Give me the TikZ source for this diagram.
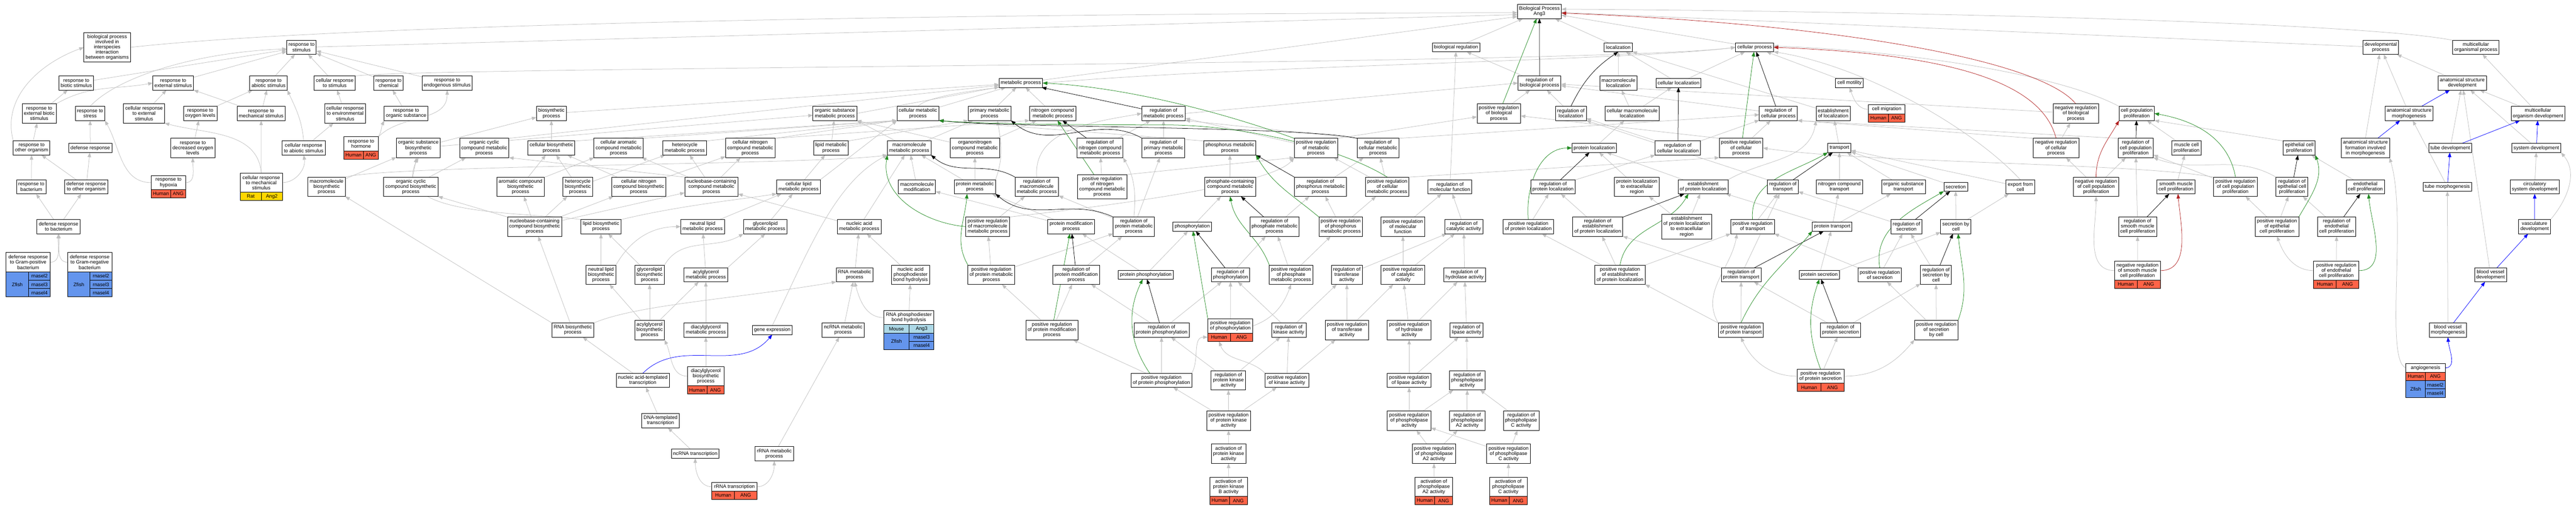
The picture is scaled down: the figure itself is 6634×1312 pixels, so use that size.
\documentclass[tikz,border=0pt]{standalone}
\usepackage{fontspec}
\setmainfont{Liberation Sans}
\usetikzlibrary{arrows.meta,calc}
\pgfdeclarelayer{bg}
\pgfsetlayers{bg,main}
\definecolor{hum}{RGB}{255,99,71}
\definecolor{rat}{RGB}{255,215,0}
\definecolor{fish}{RGB}{100,149,237}
\definecolor{mouse}{RGB}{173,216,230}
\definecolor{edgegray}{RGB}{192,192,192}
\definecolor{posgreen}{RGB}{34,139,34}
\definecolor{negred}{RGB}{178,34,34}
\newcommand{\gofont}{\fontsize{12.8}{13.4}\selectfont}
\newcommand{\rowh}{21.5pt}
% species cell under a term: host, first row, rows, width, colour, text
\newcommand{\spcell}[6]{\node[cell, fill=#5, minimum width=#4pt, minimum height=#3*\rowh, anchor=north west]
  (#1-s#2) at ([yshift=-#2*\rowh]#1.south west) {#6};}
% gene cell under a term: host, row, width, colour, text
\newcommand{\gncell}[5]{\node[cell, fill=#4, minimum width=#3pt, minimum height=\rowh, anchor=north east]
  (#1-g#2) at ([yshift=-#2*\rowh]#1.south east) {#5};}

\begin{document}
\begin{tikzpicture}[x=1pt, y=1pt,
    term/.style={draw, line width=1.2pt, fill=white, align=center, font=\gofont, inner xsep=4.5pt, inner ysep=1pt, outer sep=0pt, minimum height=36.4pt},
    tall/.style={minimum height=9.6pt+#1*13.4pt},
    cell/.style={draw, line width=1.2pt, font=\gofont, inner sep=0pt, outer sep=0pt},
    link/.style={-{Triangle[length=12pt,width=9pt]}, edgegray, line width=1pt},
    poslink/.style={link, posgreen},
    reglink/.style={link, black},
    neglink/.style={link, negred},
    partlink/.style={link, blue}
]
    % --- root and level 1 ---
    \node[term] (bp) at (3964.4,-29.7) {Biological Process\\Ang3};
    \node[term, tall=5] (interspec) at (276,-122) {biological process\\involved in\\interspecies\\interaction\\between organisms};
    \node[term] (respstim) at (776.5,-122) {response to\\stimulus};
    \node[term, tall=1] (bioreg) at (3750,-122) {biological regulation};
    \node[term, tall=1] (loc) at (4167.5,-122) {localization};
    \node[term, tall=1] (cellproc) at (4518.6,-122) {cellular process};
    \node[term] (devproc) at (6131,-122) {developmental\\process};
    \node[term] (multiproc) at (6376,-122) {multicellular\\organismal process};

    % --- level 2 ---
    \node[term] (biotic) at (196.5,-214) {response to\\biotic stimulus};
    \node[term] (external) at (446,-214) {response to\\external stimulus};
    \node[term] (abiotic) at (691.6,-214) {response to\\abiotic stimulus};
    \node[term] (cellresp) at (862,-214) {cellular response\\to stimulus};
    \node[term] (chemical) at (1000.6,-214) {response to\\chemical};
    \node[term] (endogen) at (1151.6,-214) {response to\\endogenous stimulus};
    \node[term, tall=1] (metab) at (2629,-214) {metabolic process};
    \node[term] (regbio) at (3964.7,-214) {regulation of\\biological process};
    \node[term] (macroloc) at (4168,-214) {macromolecule\\localization};
    \node[term, tall=1] (cellloc) at (4322.6,-214) {cellular localization};
    \node[term, tall=1] (motility) at (4763,-214) {cell motility};
    \node[term] (anatdev) at (6341,-214) {anatomical structure\\development};

    % --- level 3 ---
    \node[term, tall=3] (extbiotic) at (101,-292.5) {response to\\external biotic\\stimulus};
    \node[term] (stress) at (232,-292.5) {response to\\stress};
    \node[term, tall=3] (cellext) at (371,-292.5) {cellular response\\to external\\stimulus};
    \node[term] (oxygen) at (515.7,-292.5) {response to\\oxygen levels};
    \node[term] (mechan) at (672.5,-292.5) {response to\\mechanical stimulus};
    \node[term, tall=3] (cellenv) at (888.8,-292.5) {cellular response\\to environmental\\stimulus};
    \node[term] (orgsub) at (1046,-292.5) {response to\\organic substance};
    \node[term] (biosyn) at (1420,-292.5) {biosynthetic\\process};
    \node[term] (osmetab) at (2150,-292.5) {organic substance\\metabolic process};
    \node[term] (cellmetab) at (2364,-292.5) {cellular metabolic\\process};
    \node[term] (primmetab) at (2548.6,-292.5) {primary metabolic\\process};
    \node[term] (nitmetab) at (2711,-292.5) {nitrogen compound\\metabolic process};
    \node[term] (regmetab) at (2996.5,-292.5) {regulation of\\metabolic process};
    \node[term, tall=3] (posregbio) at (3860,-292.5) {positive regulation\\of biological\\process};
    \node[term] (regloc) at (4045.4,-292.5) {regulation of\\localization};
    \node[term] (cmacroloc) at (4203.3,-292.5) {cellular macromolecule\\localization};
    \node[term] (regcell) at (4579.8,-292.5) {regulation of\\cellular process};
    \node[term] (estloc) at (4721,-292.5) {establishment\\of localization};
    \node[term, tall=1, minimum width=93.4pt] (migration) at (4858.7,-281.8) {cell migration};
    \spcell{migration}{0}{1}{51}{hum}{Human}
    \gncell{migration}{0}{42.4}{hum}{ANG}
    \node[term, tall=3] (negregbio) at (5345.8,-292.5) {negative regulation\\of biological\\process};
    \node[term] (cellprolif) at (5502.7,-292.5) {cell population\\proliferation};
    \node[term] (anatmorph) at (6204,-292.5) {anatomical structure\\morphogenesis};
    \node[term] (multidev) at (6536,-292.5) {multicellular\\organism development};

    % --- level 4 ---
    \node[term] (otherorg) at (81.4,-381.5) {response to\\other organism};
    \node[term, tall=1] (defense) at (232.5,-381.5) {defense response};
    \node[term, tall=3] (decoxy) at (496.6,-381.5) {response to\\decreased oxygen\\levels};
    \node[term] (cellabio) at (782,-381.5) {cellular response\\to abiotic stimulus};
    \node[term, minimum width=89pt] (hormone) at (930,-370.8) {response to\\hormone};
    \spcell{hormone}{0}{1}{50}{hum}{Human}
    \gncell{hormone}{0}{39}{hum}{ANG}
    \node[term, tall=3] (osbiosyn) at (1077.4,-381.5) {organic substance\\biosynthetic\\process};
    \node[term, tall=3] (ocmetab) at (1247,-381.5) {organic cyclic\\compound metabolic\\process};
    \node[term] (cellbiosyn) at (1420,-381.5) {cellular biosynthetic\\process};
    \node[term, tall=3] (aromatic) at (1593,-381.5) {cellular aromatic\\compound metabolic\\process};
    \node[term] (hetmetab) at (1763.4,-381.5) {heterocycle\\metabolic process};
    \node[term, tall=3] (cnmetab) at (1932,-381.5) {cellular nitrogen\\compound metabolic\\process};
    \node[term] (lipid) at (2140,-381.5) {lipid metabolic\\process};
    \node[term] (macmetab) at (2341.5,-381.5) {macromolecule\\metabolic process};
    \node[term, tall=3] (onmetab) at (2510.6,-381.5) {organonitrogen\\compound metabolic\\process};
    \node[term, tall=3] (regnit) at (2833,-381.5) {regulation of\\nitrogen compound\\metabolic process};
    \node[term, tall=3] (regprim) at (2996.4,-381.5) {regulation of\\primary metabolic\\process};
    \node[term] (phosmetab) at (3167.3,-381.5) {phosphorus metabolic\\process};
    \node[term, tall=3] (posregmetab) at (3389,-381.5) {positive regulation\\of metabolic\\process};
    \node[term, tall=3] (regcellmetab) at (3549,-381.5) {regulation of\\cellular metabolic\\process};
    \node[term, tall=1] (protloc) at (4105.6,-381.5) {protein localization};
    \node[term] (regcellloc) at (4321,-381.5) {regulation of\\cellular localization};
    \node[term, tall=3] (posregcell) at (4484,-381.5) {positive regulation\\of cellular\\process};
    \node[term, tall=1] (transport) at (4737,-381.5) {transport};
    \node[term, tall=3] (negregcell) at (5295,-381.5) {negative regulation\\of cellular\\process};
    \node[term, tall=3] (regprolif) at (5500,-381.5) {regulation of\\cell population\\proliferation};
    \node[term] (muscle) at (5631,-381.5) {muscle cell\\proliferation};
    \node[term] (epith) at (5921.3,-381.5) {epithelial cell\\proliferation};
    \node[term, tall=3] (formation) at (6091.6,-381.5) {anatomical structure\\formation involved\\in morphogenesis};
    \node[term, tall=1] (tubedev) at (6310,-381.5) {tube development};
    \node[term, tall=1] (sysdev) at (6532,-381.5) {system development};

    % --- level 5 ---
    \node[term] (bacterium) at (80.7,-481.5) {response to\\bacterium};
    \node[term] (defother) at (222,-481.5) {defense response\\to other organism};
    \node[term, minimum width=89pt] (hypoxia) at (434,-470.8) {response to\\hypoxia};
    \spcell{hypoxia}{0}{1}{50}{hum}{Human}
    \gncell{hypoxia}{0}{39}{hum}{ANG}
    \node[term, tall=3, minimum width=108.3pt] (cellmech) at (672.9,-470.8) {cellular response\\to mechanical\\stimulus};
    \spcell{cellmech}{0}{1}{54}{rat}{Rat}
    \gncell{cellmech}{0}{54.3}{rat}{Ang2}
    \node[term, tall=3] (macbiosyn) at (841,-481.5) {macromolecule\\biosynthetic\\process};
    \node[term, tall=3] (ocbiosyn) at (1058,-481.5) {organic cyclic\\compound biosynthetic\\process};
    \node[term, tall=3] (arobiosyn) at (1340.4,-481.5) {aromatic compound\\biosynthetic\\process};
    \node[term, tall=3] (hetbiosyn) at (1488,-481.5) {heterocycle\\biosynthetic\\process};
    \node[term, tall=3] (cnbiosyn) at (1645,-481.5) {cellular nitrogen\\compound biosynthetic\\process};
    \node[term, tall=3] (nbmetab) at (1832,-481.5) {nucleobase-containing\\compound metabolic\\process};
    \node[term] (clipid) at (2056.5,-481.5) {cellular lipid\\metabolic process};
    \node[term] (macmod) at (2361.4,-481.5) {macromolecule\\modification};
    \node[term] (protmetab) at (2510.5,-481.5) {protein metabolic\\process};
    \node[term, tall=3] (regmacmetab) at (2670,-481.5) {regulation of\\macromolecule\\metabolic process};
    \node[term, tall=4] (posregnit) at (2838.5,-481.5) {positive regulation\\of nitrogen\\compound metabolic\\process};
    \node[term, tall=3] (phosphmetab) at (3168,-481.5) {phosphate-containing\\compound metabolic\\process};
    \node[term, tall=3] (regphos) at (3400.5,-481.5) {regulation of\\phosphorus metabolic\\process};
    \node[term, tall=3] (posregcellmetab) at (3572.6,-481.5) {positive regulation\\of cellular\\metabolic process};
    \node[term] (regmolf) at (3734,-481.5) {regulation of\\molecular function};
    \node[term] (regprotloc) at (3999.5,-481.5) {regulation of\\protein localization};
    \node[term, tall=3] (protlocext) at (4215.4,-481.5) {protein localization\\to extracellular\\region};
    \node[term] (estprotloc) at (4386,-481.5) {establishment\\of protein localization};
    \node[term] (regtrans) at (4591.5,-481.5) {regulation of\\transport};
    \node[term] (nittrans) at (4737,-481.5) {nitrogen compound\\transport};
    \node[term] (ostrans) at (4902,-481.5) {organic substance\\transport};
    \node[term, tall=1] (secretion) at (5036.5,-481.5) {secretion};
    \node[term] (export) at (5203,-481.5) {export from\\cell};
    \node[term, tall=3] (negregprolif) at (5398,-481.5) {negative regulation\\of cell population\\proliferation};
    \node[term] (smooth) at (5603.8,-481.5) {smooth muscle\\cell proliferation};
    \node[term, tall=3] (posregprolif) at (5757,-481.5) {positive regulation\\of cell population\\proliferation};
    \node[term, tall=3] (regepith) at (5902.5,-481.5) {regulation of\\epithelial cell\\proliferation};
    \node[term] (endoth) at (6091.6,-481.5) {endothelial\\cell proliferation};
    \node[term, tall=1] (tubemorph) at (6302.7,-481.5) {tube morphogenesis};
    \node[term] (circ) at (6527.7,-481.5) {circulatory\\system development};

    % --- level 6 ---
    \node[term] (defbact) at (150.8,-584.3) {defense response\\to bacterium};
    \node[term, tall=3] (nbbiosyn) at (1376.8,-584.3) {nucleobase-containing\\compound biosynthetic\\process};
    \node[term] (lipbiosyn) at (1547.7,-584.3) {lipid biosynthetic\\process};
    \node[term] (neutral) at (1809.4,-584.3) {neutral lipid\\metabolic process};
    \node[term] (glycero) at (1970.8,-584.3) {glycerolipid\\metabolic process};
    \node[term] (nucmetab) at (2212.8,-584.3) {nucleic acid\\metabolic process};
    \node[term, tall=3] (posregmac) at (2543.4,-584.3) {positive regulation\\of macromolecule\\metabolic process};
    \node[term] (protmod) at (2758.6,-584.3) {protein modification\\process};
    \node[term, tall=3] (regprotmetab) at (2920,-584.3) {regulation of\\protein metabolic\\process};
    \node[term, tall=1] (phosphorylation) at (3070.4,-584.3) {phosphorylation};
    \node[term, tall=3] (regphosphate) at (3282.3,-584.3) {regulation of\\phosphate metabolic\\process};
    \node[term, tall=3] (posregphos) at (3452.6,-584.3) {positive regulation\\of phosphorus\\metabolic process};
    \node[term, tall=3] (posregmolf) at (3613,-584.3) {positive regulation\\of molecular\\function};
    \node[term] (regcat) at (3769.7,-584.3) {regulation of\\catalytic activity};
    \node[term] (posregprotloc) at (3935.8,-584.3) {positive regulation\\of protein localization};
    \node[term, tall=3] (regestprot) at (4114.5,-584.3) {regulation of\\establishment\\of protein localization};
    \node[term, tall=4] (estext) at (4343.8,-584.3) {establishment\\of protein localization\\to extracellular\\region};
    \node[term] (posregtrans) at (4513.3,-584.3) {positive regulation\\of transport};
    \node[term, tall=1] (prottrans) at (4718.5,-584.3) {protein transport};
    \node[term] (regsecr) at (4909.7,-584.3) {regulation of\\secretion};
    \node[term] (secrcell) at (5036.8,-584.3) {secretion by\\cell};
    \node[term, tall=3] (regsmooth) at (5505,-584.3) {regulation of\\smooth muscle\\cell proliferation};
    \node[term, tall=3] (posregepith) at (5864,-584.3) {positive regulation\\of epithelial\\cell proliferation};
    \node[term, tall=3] (regendoth) at (6017.5,-584.3) {regulation of\\endothelial\\cell proliferation};
    \node[term] (vasc) at (6527.3,-584.3) {vasculature\\development};

    % --- level 7 ---
    \node[term, tall=3, minimum width=114pt] (grampos) at (72.6,-676) {defense response\\to Gram-positive\\bacterium};
    \spcell{grampos}{0}{3}{58}{fish}{Zfish}
    \gncell{grampos}{0}{56}{fish}{rnasel2}
    \gncell{grampos}{1}{56}{fish}{rnasel3}
    \gncell{grampos}{2}{56}{fish}{rnasel4}
    \node[term, tall=3, minimum width=114pt] (gramneg) at (231,-676) {defense response\\to Gram-negative\\bacterium};
    \spcell{gramneg}{0}{3}{58}{fish}{Zfish}
    \gncell{gramneg}{0}{56}{fish}{rnasel2}
    \gncell{gramneg}{1}{56}{fish}{rnasel3}
    \gncell{gramneg}{2}{56}{fish}{rnasel4}
    \node[term, tall=3] (neutbiosyn) at (1547.8,-708.3) {neutral lipid\\biosynthetic\\process};
    \node[term, tall=3] (glybiosyn) at (1673,-708.3) {glycerolipid\\biosynthetic\\process};
    \node[term] (acylmetab) at (1817.8,-708.3) {acylglycerol\\metabolic process};
    \node[term] (rnametab) at (2201,-708.3) {RNA metabolic\\process};
    \node[term, tall=3] (phosphodiester) at (2345,-708.3) {nucleic acid\\phosphodiester\\bond hydrolysis};
    \node[term, tall=3] (posregprotmetab) at (2553,-708.3) {positive regulation\\of protein metabolic\\process};
    \node[term, tall=3] (regprotmod) at (2771.6,-708.3) {regulation of\\protein modification\\process};
    \node[term, tall=1] (protphos) at (2950.7,-708.3) {protein phosphorylation};
    \node[term] (regphosphoryl) at (3169,-708.3) {regulation of\\phosphorylation};
    \node[term, tall=3] (posregphosphate) at (3324.8,-708.3) {positive regulation\\of phosphate\\metabolic process};
    \node[term, tall=3] (regtransf) at (3468.5,-708.3) {regulation of\\transferase\\activity};
    \node[term, tall=3] (posregcat) at (3613,-708.3) {positive regulation\\of catalytic\\activity};
    \node[term] (reghydro) at (3771.8,-708.3) {regulation of\\hydrolase activity};
    \node[term, tall=3] (posregest) at (4172,-708.3) {positive regulation\\of establishment\\of protein localization};
    \node[term] (regprottrans) at (4484,-708.3) {regulation of\\protein transport};
    \node[term, tall=1] (protsecr) at (4685.3,-708.3) {protein secretion};
    \node[term] (posregsecr) at (4841,-708.3) {positive regulation\\of secretion};
    \node[term, tall=3] (regsecrcell) at (4985.8,-708.3) {regulation of\\secretion by\\cell};
    \node[term, tall=3, minimum width=118pt] (negregsmooth) at (5504.6,-697.6) {negative regulation\\of smooth muscle\\cell proliferation};
    \spcell{negregsmooth}{0}{1}{58}{hum}{Human}
    \gncell{negregsmooth}{0}{60}{hum}{ANG}
    \node[term, tall=3, minimum width=116.4pt] (posregendoth) at (6016.7,-697.6) {positive regulation\\of endothelial\\cell proliferation};
    \spcell{posregendoth}{0}{1}{58}{hum}{Human}
    \gncell{posregendoth}{0}{58.4}{hum}{ANG}
    \node[term] (bvdev) at (6413.8,-708.3) {blood vessel\\development};

    % --- level 8 ---
    \node[term] (rnabiosyn) at (1475.2,-851) {RNA biosynthetic\\process};
    \node[term, tall=3] (acylbiosyn) at (1673,-851) {acylglycerol\\biosynthetic\\process};
    \node[term] (diacylmetab) at (1817.8,-851) {diacylglycerol\\metabolic process};
    \node[term, tall=1] (geneexp) at (1988.8,-851) {gene expression};
    \node[term] (ncrnametab) at (2171.4,-851) {ncRNA metabolic\\process};
    \node[term, minimum width=129.6pt] (rnahydro) at (2340.5,-818.8) {RNA phosphodiester\\bond hydrolysis};
    \spcell{rnahydro}{0}{1}{66}{mouse}{Mouse}
    \gncell{rnahydro}{0}{63.6}{mouse}{Ang3}
    \spcell{rnahydro}{1}{2}{66}{fish}{Zfish}
    \gncell{rnahydro}{1}{63.6}{fish}{rnasel3}
    \gncell{rnahydro}{2}{63.6}{fish}{rnasel4}
    \node[term, tall=3] (posregprotmod) at (2709,-851) {positive regulation\\of protein modification\\process};
    \node[term] (regprotphos) at (2991.4,-851) {regulation of\\protein phosphorylation};
    \node[term, minimum width=116pt] (posregphosphoryl) at (3168.5,-840.3) {positive regulation\\of phosphorylation};
    \spcell{posregphosphoryl}{0}{1}{58}{hum}{Human}
    \gncell{posregphosphoryl}{0}{58}{hum}{ANG}
    \node[term] (regkinase) at (3319,-851) {regulation of\\kinase activity};
    \node[term, tall=3] (posregtransf) at (3469,-851) {positive regulation\\of transferase\\activity};
    \node[term, tall=3] (posreghydro) at (3629,-851) {positive regulation\\of hydrolase\\activity};
    \node[term] (reglipase) at (3777,-851) {regulation of\\lipase activity};
    \node[term] (posregprottrans) at (4483.2,-851) {positive regulation\\of protein transport};
    \node[term] (regprotsecr) at (4740,-851) {regulation of\\protein secretion};
    \node[term, tall=3] (posregsecrcell) at (4986.5,-851) {positive regulation\\of secretion\\by cell};
    \node[term] (bvmorph) at (6304,-851) {blood vessel\\morphogenesis};

    % --- level 9 ---
    \node[term] (natrans) at (1655.4,-980.5) {nucleic acid-templated\\transcription};
    \node[term, tall=3, minimum width=95pt] (diacylbiosyn) at (1817.8,-969.8) {diacylglycerol\\biosynthetic\\process};
    \spcell{diacylbiosyn}{0}{1}{50}{hum}{Human}
    \gncell{diacylbiosyn}{0}{45}{hum}{ANG}
    \node[term] (posregprotphos) at (2991,-980.5) {positive regulation\\of protein phosphorylation};
    \node[term, tall=3] (regpk) at (3163.5,-980.5) {regulation of\\protein kinase\\activity};
    \node[term] (posregkinase) at (3314.2,-980.5) {positive regulation\\of kinase activity};
    \node[term] (posreglipase) at (3629,-980.5) {positive regulation\\of lipase activity};
    \node[term, tall=3] (regpl) at (3778.5,-980.5) {regulation of\\phospholipase\\activity};
    \node[term, minimum width=121pt] (posregprotsecr) at (4688.5,-969.8) {positive regulation\\of protein secretion};
    \spcell{posregprotsecr}{0}{1}{61.6}{hum}{Human}
    \gncell{posregprotsecr}{0}{59.4}{hum}{ANG}
    \node[term, tall=1, minimum width=101.2pt] (angio) at (6246.4,-948.3) {angiogenesis};
    \spcell{angio}{0}{1}{50.6}{hum}{Human}
    \gncell{angio}{0}{50.6}{hum}{ANG}
    \spcell{angio}{1}{2}{50.6}{fish}{Zfish}
    \gncell{angio}{1}{50.6}{fish}{rnasel2}
    \gncell{angio}{2}{50.6}{fish}{rnasel4}

    % --- level 10 to 12 ---
    \node[term] (dnatrans) at (1701,-1084.4) {DNA-templated\\transcription};
    \node[term, tall=3] (posregpk) at (3164,-1084.4) {positive regulation\\of protein kinase\\activity};
    \node[term, tall=3] (posregpl) at (3629,-1084.4) {positive regulation\\of phospholipase\\activity};
    \node[term, tall=3] (regpla2) at (3778.5,-1084.4) {regulation of\\phospholipase\\A2 activity};
    \node[term, tall=3] (regplc) at (3917.3,-1084.4) {regulation of\\phospholipase\\C activity};
    \node[term, tall=1] (ncrnatrans) at (1790.5,-1169.7) {ncRNA transcription};
    \node[term] (rrnametab) at (1994,-1169.7) {rRNA metabolic\\process};
    \node[term, tall=3] (actpk) at (3163.9,-1169.7) {activation of\\protein kinase\\activity};
    \node[term, tall=3] (posregpla2) at (3693.2,-1169.7) {positive regulation\\of phospholipase\\A2 activity};
    \node[term, tall=3] (posregplc) at (3885,-1169.7) {positive regulation\\of phospholipase\\C activity};
    \node[term, tall=1, minimum width=116pt] (rrnatrans) at (1891.5,-1254.9) {rRNA transcription};
    \spcell{rrnatrans}{0}{1}{58}{hum}{Human}
    \gncell{rrnatrans}{0}{58}{hum}{ANG}
    \node[term, tall=3, minimum width=96.3pt] (actpkb) at (3164,-1254.9) {activation of\\protein kinase\\B activity};
    \spcell{actpkb}{0}{1}{50}{hum}{Human}
    \gncell{actpkb}{0}{46.3}{hum}{ANG}
    \node[term, tall=3, minimum width=97pt] (actpla2) at (3692.5,-1254.9) {activation of\\phospholipase\\A2 activity};
    \spcell{actpla2}{0}{1}{50.5}{hum}{Human}
    \gncell{actpla2}{0}{46.5}{hum}{ANG}
    \node[term, tall=3, minimum width=97pt] (actplc) at (3884.4,-1254.9) {activation of\\phospholipase\\C activity};
    \spcell{actplc}{0}{1}{50.5}{hum}{Human}
    \gncell{actplc}{0}{46.5}{hum}{ANG}

    \begin{pgfonlayer}{bg}
    \path[use as bounding box, fill=white] (0,0) rectangle (6634,-1312);

    % --- is_a links (grey) ---
    \draw[link] (interspec.east) .. controls (900,-60) and (2500,-35) .. ([yshift=-3pt]bp.west);
    \draw[link] (respstim) -- ([yshift=-8pt]bp.west);
    \draw[link] (metab) -- ([yshift=-13pt]bp.west);
    \draw[link] (bioreg) -- (bp);
    \draw[link] (loc) -- (bp);
    \draw[link] (cellproc) -- (bp);
    \draw[link] (devproc) -- (bp);
    \draw[link] (multiproc.north west) .. controls (6100,-60) and (5000,-30) .. ([yshift=6pt]bp.east);

    \draw[link] (biotic) -- (respstim);
    \draw[link] (external) -- (respstim);
    \draw[link] (abiotic) -- (respstim);
    \draw[link] (cellresp) -- (respstim);
    \draw[link] (chemical) -- (respstim);
    \draw[link] (endogen) -- (respstim);
    \draw[link] (cellresp.north east) .. controls (1100,-172) and (4100,-168) .. (cellproc.west);
    \draw[link] (regbio) -- (bioreg);
    \draw[link] (macroloc) -- (loc);
    \draw[link] (cellloc) -- (loc);
    \draw[link] (cellloc) -- (cellproc);
    \draw[link] (motility) -- (cellproc);
    \draw[link] (anatdev) -- (devproc);

    \draw[link] (extbiotic) -- (biotic);
    \draw[link] (extbiotic.north east) to[out=30,in=190] (external.west);
    \draw[link] (stress.north) .. controls (300,-200) and (500,-135) .. ([yshift=-4pt]respstim.west);
    \draw[link] (cellext) -- (external);
    \draw[link] (oxygen) -- (abiotic);
    \draw[link] (mechan) -- (abiotic);
    \draw[link] (mechan) -- (external);
    \draw[link] (cellenv) -- (cellresp);
    \draw[link] (orgsub) -- (chemical);
    \draw[link] (biosyn) -- (metab);
    \draw[link] (osmetab.east) -- (metab);
    \draw[link] (cellmetab) -- (metab);
    \draw[link] (cellmetab.north) .. controls (2450,-175) and (4100,-168) .. (cellproc.west);
    \draw[link] (primmetab) -- (metab);
    \draw[link] (nitmetab) -- (metab);
    \draw[link] (regmetab.east) -- (regbio.west);
    \draw[link] (posregbio) -- (regbio);
    \draw[link] (regloc) -- (regbio);
    \draw[link] (cmacroloc) -- (macroloc);
    \draw[link] (cmacroloc) -- (cellloc);
    \draw[link] (regcell) -- (regbio);
    \draw[link] (estloc) -- (loc);
    \draw[link] (migration.west) to[out=180,in=-70] (motility.south);
    \draw[link] (negregbio) -- (regbio);
    \draw[link] (cellprolif.north west) .. controls (5300,-190) and (4900,-130) .. ([yshift=3pt]cellproc.east);
    \draw[link] (anatmorph) -- (devproc);
    \draw[link] (multidev) -- (multiproc);
    \draw[link] (multidev) -- (anatdev);

    \draw[link] (otherorg) -- (extbiotic);
    \draw[link] (otherorg.north west) to[out=105,in=200] (interspec.west);
    \draw[link] (defense) -- (stress);
    \draw[link] (decoxy) -- (oxygen);
    \draw[link] (cellabio.north) to[out=95,in=-65] (abiotic.south east);
    \draw[link] (cellabio) -- (cellenv);
    \draw[link] (hormone.north east) to[out=60,in=-115] (orgsub.south west);
    \draw[link] (hormone.north east) to[out=45,in=-90] (endogen.south);
    \draw[link] (osbiosyn) -- (biosyn);
    \draw[link] (osbiosyn) -- (osmetab);
    \draw[link] (ocmetab.north east) -- (metab);
    \draw[link] (cellbiosyn) -- (biosyn);
    \draw[link] (cellbiosyn.north east) -- (cellmetab.south west);
    \draw[link] (aromatic.north east) -- (cellmetab.south west);
    \draw[link] (hetmetab.north east) -- (cellmetab.south west);
    \draw[link] (cnmetab.north east) -- (cellmetab.south west);
    \draw[link] (cnmetab.north east) -- (nitmetab.south west);
    \draw[link] (lipid) -- (osmetab);
    \draw[link] (lipid.north east) -- (primmetab.south west);
    \draw[link] (macmetab) -- (osmetab.south east);
    \draw[link] (macmetab) -- (primmetab);
    \draw[link] (onmetab) -- (nitmetab);
    \draw[link] (onmetab) -- (osmetab.south east);
    \draw[link] (regnit) -- (regmetab);
    \draw[link] (regprim) -- (regmetab);
    \draw[link] (phosmetab.north west) -- (cellmetab.south east);
    \draw[link] (posregmetab) -- (regmetab);
    \draw[link] (posregmetab.north east) -- (posregbio);
    \draw[link] (regcellmetab.north west) -- (regmetab.south east);
    \draw[link] (regcellmetab.north east) -- (regcell);
    \draw[link] (protloc) -- (cmacroloc);
    \draw[link] (regcellloc) -- (regloc);
    \draw[link] (regcellloc.north east) -- (regcell);
    \draw[link] (posregcell) -- (regcell);
    \draw[link] (posregcell.north west) -- (posregbio);
    \draw[link] (transport) -- (estloc);
    \draw[link] (negregcell.north west) -- (regcell.south east);
    \draw[link] (negregcell) -- (negregbio);
    \draw[link] (regprolif.north west) -- (regcell.south east);
    \draw[link] (muscle) -- (cellprolif);
    \draw[link] (epith.north west) -- (cellprolif.south east);
    \draw[link] (formation.north) -- (devproc);
    \draw[link] (tubedev) -- (anatdev);
    \draw[link] (sysdev) -- (anatdev);

    \draw[link] (bacterium) -- (otherorg);
    \draw[link] (defother) -- (otherorg);
    \draw[link] (defother) -- (defense);
    \draw[link] (hypoxia.west) to[out=180,in=-60] (stress.south east);
    \draw[link] (hypoxia.east) to[out=0,in=-90] (decoxy.south);
    \draw[link] (cellmech) -- (mechan);
    \draw[link] (cellmech.north) to[out=95,in=-15] (cellext.south east);
    \draw[link] (cellmech.east) to[out=0,in=-80] (cellabio.south);
    \draw[link] (macbiosyn.north east) .. controls (1000,-425) and (2100,-425) .. (macmetab.south west);
    \draw[link] (macbiosyn) -- (osbiosyn);
    \draw[link] (ocbiosyn) -- (ocmetab);
    \draw[link] (ocbiosyn) -- (osbiosyn);
    \draw[link] (arobiosyn) -- (aromatic);
    \draw[link] (arobiosyn) -- (cellbiosyn);
    \draw[link] (hetbiosyn) -- (hetmetab);
    \draw[link] (hetbiosyn) -- (cellbiosyn);
    \draw[link] (cnbiosyn) -- (cnmetab);
    \draw[link] (cnbiosyn) -- (cellbiosyn);
    \draw[link] (nbmetab) -- (hetmetab);
    \draw[link] (nbmetab) -- (cnmetab);
    \draw[link] (nbmetab) -- (aromatic);
    \draw[link] (nbmetab.north west) -- (ocmetab.south east);
    \draw[link] (clipid) -- (lipid);
    \draw[link] (clipid.north east) -- (cellmetab.south west);
    \draw[link] (macmod) -- (macmetab);
    \draw[link] (protmetab) -- (macmetab);
    \draw[link] (protmetab) -- (onmetab);
    \draw[link] (protmetab.north east) to[out=70,in=-80] ([xshift=20pt]primmetab.south);
    \draw[link] (regmacmetab.north) to[out=95,in=190] (regmetab.west);
    \draw[link] (posregnit) -- (regnit);
    \draw[link] (posregnit.north east) -- (posregmetab.south west);
    \draw[link] (phosphmetab) -- (phosmetab);
    \draw[link] (regphos) -- (regcellmetab);
    \draw[link] (posregcellmetab) -- (regcellmetab);
    \draw[link] (posregcellmetab) -- (posregmetab);
    \draw[link] (posregcellmetab.north east) -- (posregcell.south west);
    \draw[link] (regmolf) -- (bioreg);
    \draw[link] (regprotloc) -- (regcellloc);
    \draw[link] (protlocext) -- (protloc);
    \draw[link] (estprotloc) -- (protloc);
    \draw[link] (estprotloc.north east) to[out=30,in=-100] (estloc.south west);
    \draw[link] (regtrans.north west) -- (regloc.south east);
    \draw[link] (nittrans) -- (transport);
    \draw[link] (ostrans) -- (transport);
    \draw[link] (secretion) -- (transport);
    \draw[link] (export) -- (transport);
    \draw[link] (export.north) .. controls (5080,-330) and (4800,-170) .. (cellproc.south east);
    \draw[link] (negregprolif) -- (negregcell);
    \draw[link] (negregprolif) -- (regprolif);
    \draw[link] (smooth) -- (muscle);
    \draw[link] (posregprolif) -- (regprolif);
    \draw[link] (posregprolif.north west) .. controls (5500,-420) and (4800,-420) .. (posregcell.east);
    \draw[link] (regepith.north west) to[out=150,in=-20] (regprolif.south east);
    \draw[link] (endoth) -- (epith);
    \draw[link] (tubemorph) -- (anatmorph);
    \draw[link] (circ) -- (sysdev);

    \draw[link] (defbact) -- (bacterium);
    \draw[link] (defbact) -- (defother);
    \draw[link] (nbbiosyn) -- (nbmetab);
    \draw[link] (nbbiosyn) -- (arobiosyn);
    \draw[link] (nbbiosyn) -- (hetbiosyn);
    \draw[link] (nbbiosyn) -- (cnbiosyn);
    \draw[link] (nbbiosyn.north west) -- (ocbiosyn.south east);
    \draw[link] (lipbiosyn.north east) .. controls (1750,-530) and (1900,-515) .. (clipid.south west);
    \draw[link] (lipbiosyn.north west) .. controls (1350,-545) and (1000,-560) .. (osbiosyn.south);
    \draw[link] (neutral) -- (clipid);
    \draw[link] (glycero) -- (clipid);
    \draw[link] (nucmetab) -- (nbmetab);
    \draw[link] (nucmetab) -- (macmetab);
    \draw[link] (posregmac) -- (regmacmetab);
    \draw[link] (posregmac.north east) .. controls (2950,-520) and (3280,-470) .. (posregmetab.south west);
    \draw[link] (protmod) -- (macmod);
    \draw[link] (protmod) -- (protmetab);
    \draw[link] (regprotmetab) -- (regmacmetab);
    \draw[link] (regprotmetab) -- (regprim);
    \draw[link] (regprotmetab.north) to[out=85,in=-60] (regnit.south east);
    \draw[link] (phosphorylation) -- (phosphmetab);
    \draw[link] (regphosphate) -- (regphos);
    \draw[link] (posregphos) -- (regphos);
    \draw[link] (posregphos) -- (posregcellmetab);
    \draw[link] (posregmolf) -- (regmolf);
    \draw[link] (regcat) -- (regmolf);
    \draw[link] (posregprotloc) -- (regprotloc);
    \draw[link] (regestprot) -- (regprotloc);
    \draw[link] (estext) -- (estprotloc);
    \draw[link] (estext) -- (protlocext);
    \draw[link] (posregtrans) -- (regtrans);
    \draw[link] (prottrans) -- (estprotloc);
    \draw[link] (prottrans) -- (nittrans);
    \draw[link] (prottrans) -- (ostrans);
    \draw[link] (regsecr) -- (regtrans);
    \draw[link] (secrcell) -- (secretion);
    \draw[link] (secrcell) -- (export);
    \draw[link] (regsmooth) -- (regprolif);
    \draw[link] (posregepith) -- (regepith);
    \draw[link] (posregepith) -- (posregprolif);
    \draw[link] (regendoth) -- (regepith);
    \draw[link] (vasc.north east) to[out=50,in=-50] (sysdev.south east);

    \draw[link] (grampos.east) to[out=0,in=-95] (defbact.south);
    \draw[link] (gramneg.west) to[out=180,in=-85] (defbact.south);
    \draw[link] (neutbiosyn.north east) to[out=60,in=180] (neutral.west);
    \draw[link] (neutbiosyn) -- (lipbiosyn);
    \draw[link] (glybiosyn.north east) to[out=60,in=-150] (glycero.south west);
    \draw[link] (glybiosyn) -- (lipbiosyn);
    \draw[link] (acylmetab) -- (neutral);
    \draw[link] (acylmetab.north east) -- (glycero.south);
    \draw[link] (rnametab) -- (nucmetab);
    \draw[link] (phosphodiester) -- (nucmetab);
    \draw[link] (posregprotmetab) -- (regprotmetab);
    \draw[link] (posregprotmetab) -- (posregmac);
    \draw[link] (regprotmod) -- (regprotmetab);
    \draw[link] (protphos) -- (phosphorylation);
    \draw[link] (protphos) -- (protmod);
    \draw[link] (regphosphoryl) -- (regphosphate);
    \draw[link] (posregphosphate) -- (regphosphate);
    \draw[link] (posregphosphate) -- (posregphos);
    \draw[link] (regtransf) -- (regcat);
    \draw[link] (posregcat) -- (regcat);
    \draw[link] (posregcat) -- (posregmolf);
    \draw[link] (reghydro) -- (regcat);
    \draw[link] (posregest) -- (regestprot);
    \draw[link] (posregest) -- (posregprotloc);
    \draw[link] (posregest.north east) -- (posregtrans.south west);
    \draw[link] (regprottrans.north west) -- (regestprot.south east);
    \draw[link] (regprottrans) -- (regtrans);
    \draw[link] (protsecr) -- (prottrans);
    \draw[link] (protsecr.north east) -- (secrcell);
    \draw[link] (posregsecr) -- (regsecr);
    \draw[link] (posregsecr.north west) -- (posregtrans.south east);
    \draw[link] (regsecrcell) -- (regsecr);
    \draw[link] (negregsmooth.west) to[out=180,in=-90] (negregprolif.south);
    \draw[link] (negregsmooth) -- (regsmooth);
    \draw[link] (posregendoth.west) to[out=180,in=-70] (posregepith.south);
    \draw[link] (posregendoth) -- (regendoth);
    \draw[link] (bvdev) -- (anatdev);

    \draw[link] (rnabiosyn.north east) .. controls (1640,-785) and (1900,-770) .. (rnametab.south west);
    \draw[link] (rnabiosyn) -- (nbbiosyn);
    \draw[link] (rnabiosyn.north west) -- (macbiosyn.south east);
    \draw[link] (acylbiosyn) -- (acylmetab);
    \draw[link] (acylbiosyn) -- (glybiosyn);
    \draw[link] (acylbiosyn) -- (neutbiosyn);
    \draw[link] (diacylmetab) -- (acylmetab);
    \draw[link] (geneexp.north) .. controls (2080,-650) and (2150,-470) .. (macmetab.south west);
    \draw[link] (ncrnametab) -- (rnametab);
    \draw[link] (rnahydro) -- (phosphodiester);
    \draw[link] (rnahydro.west) to[out=180,in=-75] (rnametab.south);
    \draw[link] (posregprotmod) -- (regprotmod);
    \draw[link] (posregprotmod) -- (posregprotmetab);
    \draw[link] (regprotphos) -- (regprotmod);
    \draw[link] (regprotphos) -- (regphosphoryl);
    \draw[link] (posregphosphoryl) -- (regphosphoryl);
    \draw[link] (posregphosphoryl.east) to[out=20,in=-110] (posregphosphate.south);
    \draw[link] (regkinase) -- (regphosphoryl);
    \draw[link] (regkinase) -- (regtransf);
    \draw[link] (posregtransf) -- (regtransf);
    \draw[link] (posregtransf) -- (posregcat);
    \draw[link] (posreghydro) -- (reghydro);
    \draw[link] (posreghydro) -- (posregcat);
    \draw[link] (reglipase) -- (reghydro);
    \draw[link] (posregprottrans) -- (regprottrans);
    \draw[link] (posregprottrans.north west) to[out=120,in=-100] ([xshift=-40pt]posregtrans.south);
    \draw[link] (posregprottrans.north west) -- (posregest.south east);
    \draw[link] (regprotsecr) -- (regprottrans);
    \draw[link] (regprotsecr) -- (regsecrcell);
    \draw[link] (posregsecrcell) -- (regsecrcell);
    \draw[link] (posregsecrcell) -- (posregsecr);
    \draw[link] (bvmorph) -- (tubemorph);

    \draw[link] (natrans) -- (rnabiosyn);
    \draw[link] (diacylbiosyn) -- (diacylmetab);
    \draw[link] (diacylbiosyn.west) to[out=180,in=-65] (acylbiosyn.south east);
    \draw[link] (posregprotphos) -- (regprotphos);
    \draw[link] (posregprotphos) -- (posregprotmod);
    \draw[link] (posregprotphos.north east) to[out=60,in=180] (posregphosphoryl-s0.west);
    \draw[link] (regpk) -- (regprotphos);
    \draw[link] (regpk) -- (regkinase);
    \draw[link] (posregkinase) -- (regkinase);
    \draw[link] (posregkinase) -- (posregtransf);
    \draw[link] (posregkinase.north west) to[out=135,in=-70] (posregphosphoryl-s0.south);
    \draw[link] (posreglipase) -- (reglipase);
    \draw[link] (posreglipase) -- (posreghydro);
    \draw[link] (regpl) -- (reglipase);
    \draw[link] (posregprotsecr.west) to[out=180,in=-65] (posregprottrans.south);
    \draw[link] (posregprotsecr) -- (regprotsecr);
    \draw[link] (posregprotsecr.east) to[out=0,in=-130] (posregsecrcell.south west);
    \draw[link] (angio.west) .. controls (6140,-930) and (6200,-560) .. (formation.south east);

    \draw[link] (dnatrans) -- (natrans);
    \draw[link] (posregpk) -- (regpk);
    \draw[link] (posregpk) -- (posregprotphos);
    \draw[link] (posregpk) -- (posregkinase);
    \draw[link] (posregpl) -- (regpl);
    \draw[link] (posregpl) -- (posreglipase);
    \draw[link] (regpla2) -- (regpl);
    \draw[link] (regplc) -- (regpl);
    \draw[link] (ncrnatrans) -- (dnatrans);
    \draw[link] (rrnametab) -- (ncrnametab);
    \draw[link] (actpk) -- (posregpk);
    \draw[link] (posregpla2) -- (posregpl);
    \draw[link] (posregpla2) -- (regpla2);
    \draw[link] (posregplc) -- (regplc);
    \draw[link] (posregplc) -- (posregpl);
    \draw[link] (rrnatrans.west) to[out=180,in=-90] (ncrnatrans.south);
    \draw[link] (rrnatrans.east) to[out=0,in=-90] (rrnametab.south);
    \draw[link] (actpkb) -- (actpk);
    \draw[link] (actpla2) -- (posregpla2);
    \draw[link] (actplc) -- (posregplc);

    % --- regulates (black) ---
    \draw[reglink] (regbio) -- (bp);
    \draw[reglink] (regmetab) -- (metab);
    \draw[reglink] (regcellmetab.north west) .. controls (3350,-325) and (2600,-330) .. (cellmetab.south east);
    \draw[reglink] (regprim.north west) to[out=150,in=-40] (primmetab.south east);
    \draw[reglink] (regnit) -- (nitmetab);
    \draw[reglink] (regmacmetab.north west) to[out=150,in=-40] (macmetab.south east);
    \draw[reglink] (regprotmetab.north west) to[out=155,in=-40] (protmetab.south east);
    \draw[reglink] (regprotmod) -- (protmod);
    \draw[reglink] (regphosphoryl) -- (phosphorylation);
    \draw[reglink] (regphosphate) -- (phosphmetab);
    \draw[reglink] (regphos.north west) -- (phosmetab.south east);
    \draw[reglink] (regloc.north) to[bend left=15] (loc.south);
    \draw[reglink] (regcellloc) -- (cellloc);
    \draw[reglink] (regprotloc) -- (protloc);
    \draw[reglink] (regestprot) -- (estprotloc);
    \draw[reglink] (regcell) -- (cellproc);
    \draw[reglink] (regtrans) -- (transport);
    \draw[reglink] (regprottrans) -- (prottrans);
    \draw[reglink] (regsecr) -- (secretion);
    \draw[reglink] (regsecrcell) -- (secrcell);
    \draw[reglink] (regprotsecr) -- (protsecr);
    \draw[reglink] (regprolif) -- (cellprolif);
    \draw[reglink] (regsmooth) -- (smooth);
    \draw[reglink] (regepith) -- (epith);
    \draw[reglink] (regendoth) -- (endoth);
    \draw[reglink] (regprotphos) -- (protphos);

    % --- positively regulates (green) ---
    \draw[poslink] (posregbio) -- (bp);
    \draw[poslink] (posregmetab.north west) .. controls (3150,-290) and (2900,-225) .. (metab.east);
    \draw[poslink] (posregcellmetab.north) .. controls (3450,-380) and (3200,-322) .. (3000,-322) .. controls (2700,-322) and (2500,-318) .. (cellmetab.south east);
    \draw[poslink] (posregnit) -- (nitmetab);
    \draw[poslink] (posregmac.west) to[out=175,in=-100] (macmetab.south west);
    \draw[poslink] (posregprotmetab.north west) to[out=120,in=-95] ([xshift=-20pt]protmetab.south);
    \draw[poslink] (posregprotmod) -- (protmod);
    \draw[poslink] (posregphosphoryl.north west) -- (phosphorylation);
    \draw[poslink] (posregphosphate.north west) to[out=110,in=-80] (phosphmetab.south);
    \draw[poslink] (posregphos.north west) to[out=140,in=-60] (phosmetab.south east);
    \draw[poslink] (posregprotloc.north) to[out=95,in=180] (protloc.west);
    \draw[poslink] (posregest.north) to[out=80,in=-120] ([xshift=-38pt]estprotloc.south);
    \draw[poslink] (posregcell) -- (cellproc);
    \draw[poslink] (posregtrans.north) to[out=95,in=-150] (transport.south west);
    \draw[poslink] (posregprottrans.north) to[out=65,in=-130] (prottrans.south west);
    \draw[poslink] (posregsecr.north) to[out=100,in=-150] (secretion.south west);
    \draw[poslink] (posregsecrcell.north east) to[out=70,in=-85] ([xshift=6pt]secrcell.south);
    \draw[poslink] (posregprotsecr.north) to[bend left=20] (protsecr.south);
    \draw[poslink] (posregprolif.north) to[out=100,in=-10] (cellprolif.east);
    \draw[poslink] (posregepith.north east) to[out=60,in=-70] (epith.south east);
    \draw[poslink] (posregendoth.east) to[out=0,in=-85] ([xshift=8pt]endoth.south);
    \draw[poslink] ([xshift=-30pt]posregprotphos.north) to[bend left=30] ([xshift=-8pt]protphos.south);

    % --- negatively regulates (red) ---
    \draw[neglink] (negregbio.north) .. controls (5250,-150) and (4700,-60) .. ([yshift=-4pt]bp.east);
    \draw[neglink] (negregcell.north) .. controls (5260,-220) and (5050,-140) .. (cellproc.east);
    \draw[neglink] (negregprolif.north) to[out=90,in=-120] (cellprolif.south west);
    \draw[neglink] (negregsmooth.east) to[out=0,in=-85] ([xshift=5pt]smooth.south);

    % --- part of (blue) ---
    \draw[partlink] (anatmorph) -- (anatdev);
    \draw[partlink] (formation) -- (anatmorph);
    \draw[partlink] (tubedev) -- (multidev);
    \draw[partlink] (sysdev) -- (multidev);
    \draw[partlink] (tubemorph) -- (tubedev);
    \draw[partlink] (vasc) -- (circ);
    \draw[partlink] (bvdev) -- (vasc);
    \draw[partlink] (bvmorph) -- (bvdev);
    \draw[partlink] (angio.east) to[out=0,in=-85] (bvmorph.south);
    \draw[partlink] (natrans.north) to[out=45,in=-130] (geneexp.south);
    \end{pgfonlayer}
\end{tikzpicture}
\end{document}
